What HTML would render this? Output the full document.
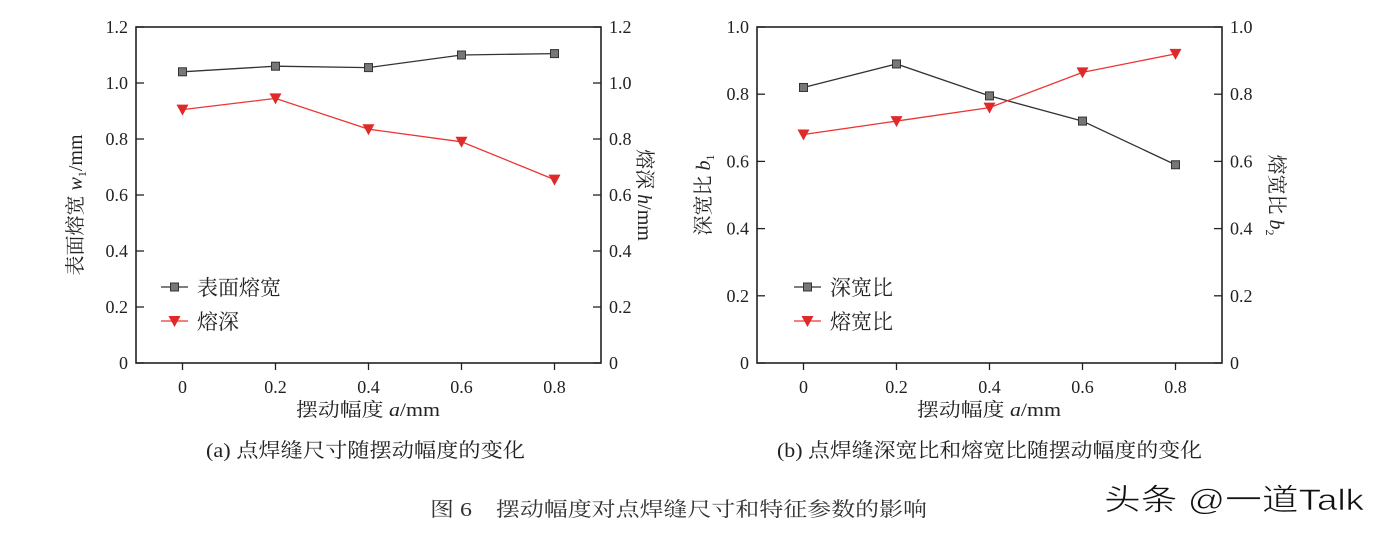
<!DOCTYPE html>
<html><head><meta charset="utf-8"><style>
html,body{margin:0;padding:0;background:#fff;}
svg{display:block;font-family:"Liberation Serif","Noto Serif CJK SC",serif;}
</style></head><body>
<svg id="c" width="1382" height="536" viewBox="0 0 1382 536" xmlns="http://www.w3.org/2000/svg"></svg>
<script>
const xCats=[0,0.2,0.4,0.6,0.8];
const xTickLabels=["0","0.2","0.4","0.6","0.8"];
const widthVals=[1.04,1.06,1.055,1.10,1.105];
const depthVals=[0.905,0.945,0.835,0.79,0.655];
const ratioB1=[0.82,0.89,0.795,0.72,0.59];
const ratioB2=[0.68,0.72,0.76,0.865,0.92];
const leftTicks=[0,0.2,0.4,0.6,0.8,1.0,1.2];
const leftTickLabels=["0","0.2","0.4","0.6","0.8","1.0","1.2"];
const rightTicks=[0,0.2,0.4,0.6,0.8,1.0];
const rightTickLabels=["0","0.2","0.4","0.6","0.8","1.0"];

const NS="http://www.w3.org/2000/svg";
const svg=document.getElementById('c');
function el(tag,attrs,parent,text){const e=document.createElementNS(NS,tag);for(const k in attrs)e.setAttribute(k,attrs[k]);if(text!==undefined)e.textContent=text;(parent||svg).appendChild(e);return e;}

function panel(cfg){
  const g=el('g',{});
  
  
  const L=cfg.x0,R=cfg.x1,T=27,B=363;
  const sx=v=>L+(v+0.1)/1.0*(R-L);
  const sy=v=>B-v/cfg.ymax*(B-T);
  const box=el('rect',{x:L,y:T,width:R-L,height:B-T,fill:'none',stroke:'#222','stroke-width':1.6},g);
  
  
  cfg.yt.forEach((v,i)=>{
    const y=sy(v);
    el('line',{x1:L,y1:y,x2:L+8,y2:y,stroke:'#222','stroke-width':1.3},g);
    el('line',{x1:R,y1:y,x2:R-8,y2:y,stroke:'#222','stroke-width':1.3},g);
    const t1=el('text',{x:L-8,y:y+6,'text-anchor':'end','font-size':18,fill:'#222'},g,cfg.yl[i]);
    
    
    const t2=el('text',{x:R+8,y:y+6,'text-anchor':'start','font-size':18,fill:'#222'},g,cfg.yl[i]);
    
    
  });
  xCats.forEach((v,i)=>{
    const x=sx(v);
    el('line',{x1:x,y1:B,x2:x,y2:B+7,stroke:'#222','stroke-width':1.3},g);
    const t=el('text',{x:x,y:B+30,'text-anchor':'middle','font-size':18,fill:'#222'},g,xTickLabels[i]);
    
    
  });
  const xt=el('text',{x:cfg.xtx,y:416,'font-size':19,fill:'#222',textLength:144,lengthAdjust:'spacingAndGlyphs'},g);
  
  
  xt.innerHTML='摆动幅度 <tspan font-style="italic">a</tspan>/mm';
  const ly=el('text',{transform:`translate(${cfg.lyx},${cfg.lyy}) rotate(-90)`,'text-anchor':'middle','font-size':20,fill:'#222'},g);
  
  
  ly.innerHTML=cfg.lyt;
  const ry=el('text',{transform:`translate(${cfg.ryx},${cfg.ryy}) rotate(90)`,'text-anchor':'middle','font-size':20,fill:'#222'},g);
  
  
  ry.innerHTML=cfg.ryt;
  function series(vals,color,shape,nm){
    const pts=vals.map((v,i)=>sx(xCats[i])+','+sy(v)).join(' ');
    const pl=el('polyline',{points:pts,fill:'none',stroke:color,'stroke-width':1.3},g);
    
    
    vals.forEach((v,i)=>{
      const x=sx(xCats[i]),y=sy(v);
      let m;
      if(shape==='sq') m=el('rect',{x:x-4,y:y-4,width:8,height:8,fill:'#777',stroke:'#333','stroke-width':1},g);
      else m=el('polygon',{points:`${x-6},${y-5} ${x+6},${y-5} ${x},${y+6}`,fill:'#e02a2a'},g);
      
      
    });
  }
  series(cfg.s1,'#333','sq',cfg.n1);
  series(cfg.s2,'#e33','tri',cfg.n2);
  [[cfg.l1,'#333','sq',287],[cfg.l2,'#e33','tri',321]].forEach(([lab,c,sh,y])=>{
    const lx=cfg.legx;
    el('line',{x1:lx,y1:y,x2:lx+27,y2:y,stroke:c,'stroke-width':1.3},g);
    const cx=lx+13.5;
    if(sh==='sq') el('rect',{x:cx-4,y:y-4,width:8,height:8,fill:'#777',stroke:'#333'},g);
    else el('polygon',{points:`${cx-6},${y-5} ${cx+6},${y-5} ${cx},${y+6}`,fill:'#e02a2a'},g);
    const t=el('text',{x:lx+36,y:y+8,'font-size':21,fill:'#222'},g,lab);
    
    
  });
  const cap=el('text',{x:cfg.capx,y:457,'font-size':20,fill:'#222',textLength:cfg.capw,lengthAdjust:'spacingAndGlyphs'},g,cfg.cap);
  
  
}
panel({name:'chart-a',x0:136,x1:601,ymax:1.2,yt:leftTicks,yl:leftTickLabels,s1:widthVals,s2:depthVals,n1:'surface-width',n2:'depth',
  l1:'表面熔宽',l2:'熔深',legx:161,lyx:82,lyy:205,ryx:638,ryy:195,xtx:296,
  lyt:'表面熔宽 <tspan font-style="italic">w</tspan><tspan font-size="12" dy="4">1</tspan><tspan dy="-4">/mm</tspan>',
  ryt:'熔深 <tspan font-style="italic">h</tspan>/mm',cap:'(a) 点焊缝尺寸随摆动幅度的变化',capx:206,capw:319});
panel({name:'chart-b',x0:757,x1:1222,ymax:1.0,yt:rightTicks,yl:rightTickLabels,s1:ratioB1,s2:ratioB2,n1:'depth-width-ratio',n2:'melt-width-ratio',
  l1:'深宽比',l2:'熔宽比',legx:794,lyx:710,lyy:195,ryx:1270,ryy:195,xtx:917,
  lyt:'深宽比 <tspan font-style="italic">b</tspan><tspan font-size="12" dy="4">1</tspan>',
  ryt:'熔宽比 <tspan font-style="italic">b</tspan><tspan font-size="12" dy="4">2</tspan>',cap:'(b) 点焊缝深宽比和熔宽比随摆动幅度的变化',capx:777,capw:425});
const ft=el('text',{x:430,y:516,'font-size':20,fill:'#333',textLength:497,lengthAdjust:'spacingAndGlyphs'},svg,'图 6　摆动幅度对点焊缝尺寸和特征参数的影响');


const wm=el('text',{x:1104,y:510,'font-size':30,fill:'#111',stroke:'#fff','stroke-width':0.6,textLength:260,lengthAdjust:'spacingAndGlyphs',style:'font-family:"Liberation Sans","Noto Sans CJK SC",sans-serif'},svg,'头条 @一道Talk');


</script>
</body></html>
